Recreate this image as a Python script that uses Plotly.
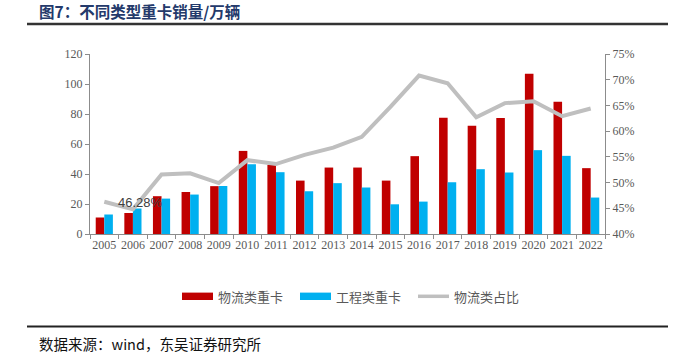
import plotly.graph_objects as go

years = ["2005", "2006", "2007", "2008", "2009", "2010", "2011", "2012", "2013",
         "2014", "2015", "2016", "2017", "2018", "2019", "2020", "2021", "2022"]
logistics = [11, 14, 25.2, 28, 31.9, 55.4, 46, 35.6, 44.3, 44.3, 35.6, 51.9, 77.5, 72.1, 77.3, 106.8, 88.2, 43.9]
engineering = [13, 17, 23.6, 26.3, 32, 46.5, 41.2, 28.5, 33.9, 31, 19.8, 21.6, 34.5, 43.2, 41, 55.9, 52.1, 24.3]
share = [0.4628, 0.448, 0.5157, 0.518, 0.499, 0.5435, 0.536, 0.554, 0.568, 0.589, 0.647, 0.708, 0.693,
         0.627, 0.6545, 0.658, 0.629, 0.644]
label_text = "46.28%"

RED = "#C00000"
BLUE = "#00B0F0"
GRAY = "#BFBFBF"
AX = "#8C8C8C"
TXT = "#595959"

W, H = 690, 356
L, R, T, B = 90, 605, 54, 234

def px(x):
    return (x - L) / (R - L)

def py(y):
    return (B - y) / (B - T)

fig = go.Figure()
fig.add_trace(go.Bar(x=years, y=logistics, name="物流类重卡", marker=dict(color=RED, line=dict(width=0))))
fig.add_trace(go.Bar(x=years, y=engineering, name="工程类重卡", marker=dict(color=BLUE, line=dict(width=0))))
fig.add_trace(go.Scatter(x=years, y=share, name="物流类占比", yaxis="y2", mode="lines",
                         line=dict(color=GRAY, width=4)))

tickfont = dict(family="Liberation Serif, Times New Roman, serif", size=12, color=TXT)

fig.update_layout(
    width=W, height=H,
    margin=dict(l=L, r=W - R, t=T, b=H - B, autoexpand=False),
    paper_bgcolor="white", plot_bgcolor="white",
    barmode="group", bargap=0.4, bargroupgap=0,
    showlegend=False,
    xaxis=dict(type="category", range=[-0.5, len(years) - 0.5], showline=True, linecolor=AX, linewidth=1,
               ticks="outside", tickson="boundaries", ticklen=4, tickcolor=AX, tickangle=0,
               tickfont=tickfont, showgrid=False),
    yaxis=dict(range=[0, 120], dtick=20, showline=True, linecolor=AX, linewidth=1,
               ticks="outside", ticklen=4, tickcolor=AX, showgrid=False, zeroline=False,
               tickfont=tickfont),
    yaxis2=dict(range=[0.40, 0.75], dtick=0.05, tickformat=".0%", overlaying="y", side="right",
                showline=True, linecolor=AX, linewidth=1, ticks="outside", ticklen=4, tickcolor=AX,
                showgrid=False, zeroline=False, tickfont=tickfont),
)

# header / footer rules
fig.add_shape(type="line", xref="paper", yref="paper", x0=px(27), x1=px(668), y0=py(24), y1=py(24),
              line=dict(color="#333333", width=2.5))
fig.add_shape(type="line", xref="paper", yref="paper", x0=px(27), x1=px(668), y0=py(326.5), y1=py(326.5),
              line=dict(color="#222222", width=2))

# title
fig.add_annotation(xref="paper", yref="paper", x=px(37), y=py(11), xanchor="left", yanchor="middle",
                   text="<b>图7：不同类型重卡销量/万辆</b>", showarrow=False,
                   font=dict(family="Noto Sans CJK SC", size=15.5, color="#243A6B"))
# source
fig.add_annotation(xref="paper", yref="paper", x=px(37), y=py(343), xanchor="left", yanchor="middle",
                   text="数据来源：wind，东吴证券研究所", showarrow=False,
                   font=dict(family="Noto Sans CJK SC", size=14.5, color="#111111"))

# data label (category index 0 = first year)
fig.add_annotation(x=0, y=share[0], xref="x", yref="y2", text=label_text, showarrow=False,
                   xshift=36, yshift=-1, font=dict(family="Liberation Sans, Arial", size=13, color="#404040"))

# custom legend
leg_y = 296.3
items = [(182, "rect", RED, "物流类重卡"), (300, "rect", BLUE, "工程类重卡"), (418, "line", GRAY, "物流类占比")]
for x0, kind, col, label in items:
    if kind == "rect":
        fig.add_shape(type="rect", xref="paper", yref="paper", x0=px(x0), x1=px(x0 + 31),
                      y0=py(leg_y - 3.7), y1=py(leg_y + 3.7), fillcolor=col, line=dict(width=0))
    else:
        fig.add_shape(type="line", xref="paper", yref="paper", x0=px(x0), x1=px(x0 + 31),
                      y0=py(leg_y), y1=py(leg_y), line=dict(color=col, width=3.5))
    fig.add_annotation(xref="paper", yref="paper", x=px(x0 + 34), y=py(leg_y), xanchor="left",
                       yanchor="middle", text=label, showarrow=False,
                       font=dict(family="Noto Sans CJK SC", size=13, color=TXT))

fig.write_html("out.html", config={"displayModeBar": False},
               post_script="document.body.style.margin='0';document.body.style.overflow='hidden';")
